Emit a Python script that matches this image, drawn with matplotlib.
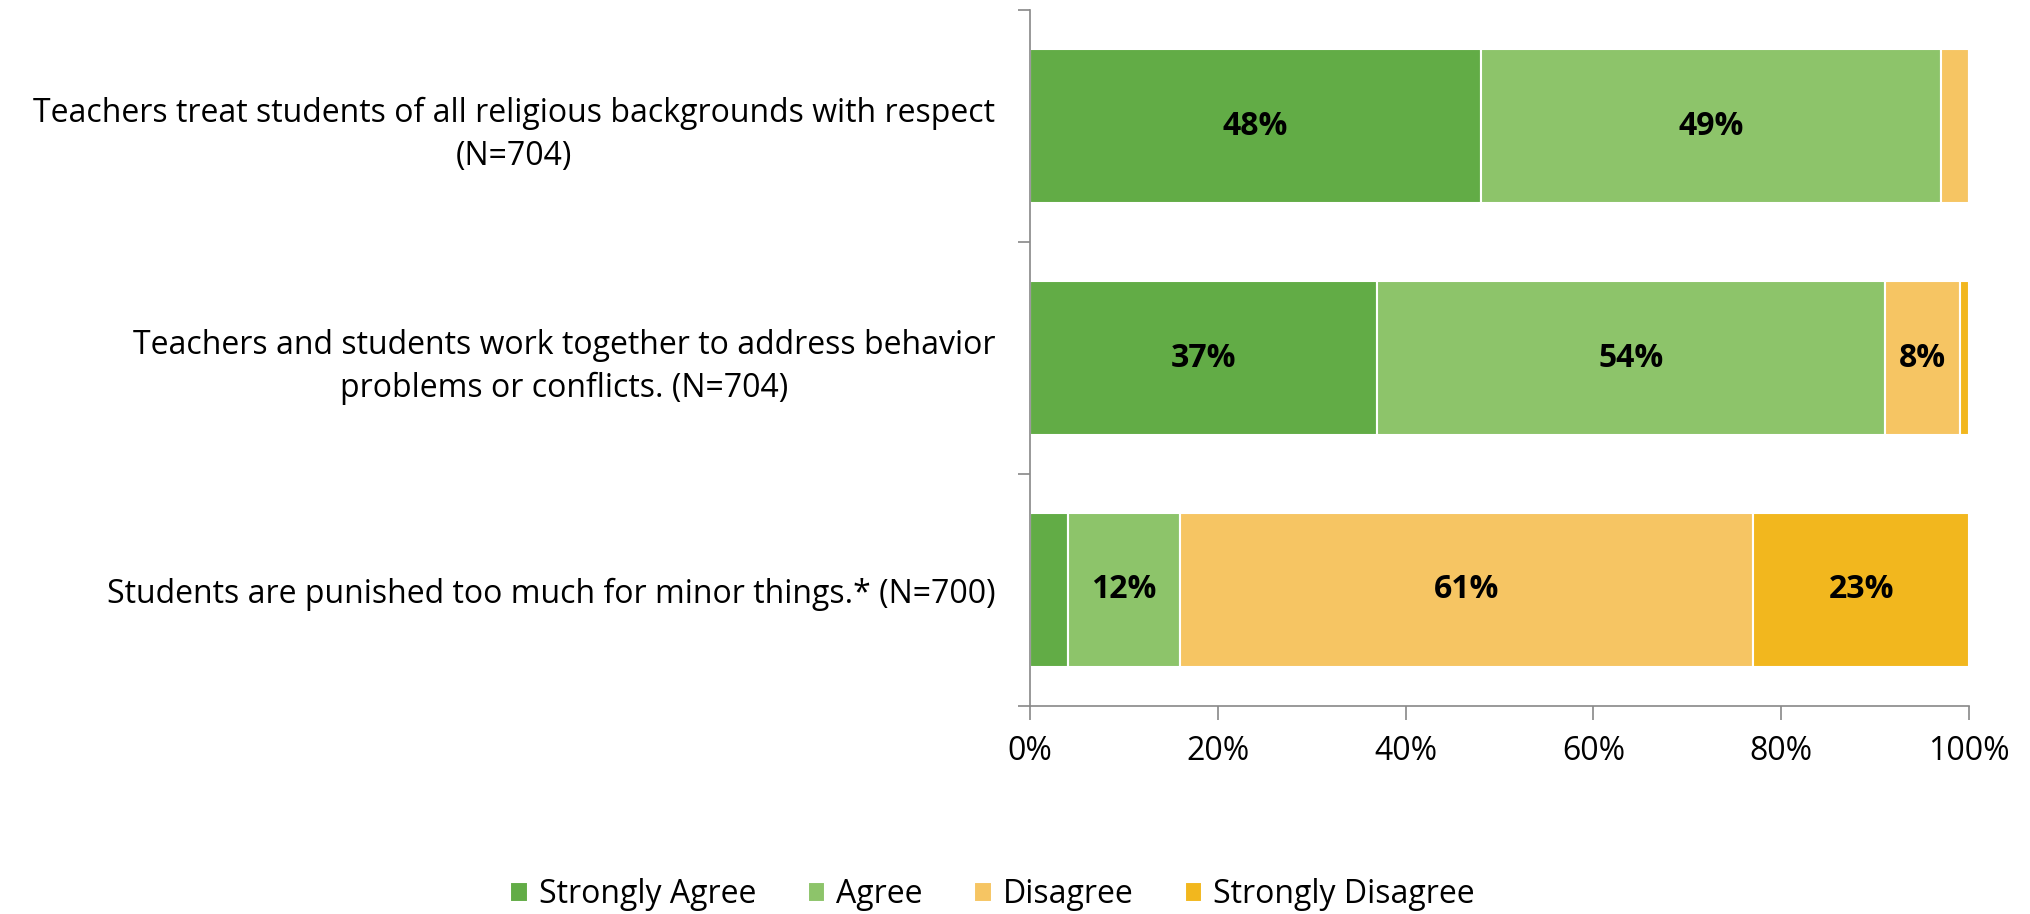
import matplotlib
matplotlib.use("Agg")
import matplotlib.pyplot as plt
import numpy as np

categories = [
    "Teachers treat students of all religious backgrounds with respect\n(N=704)",
    "Teachers and students work together to address behavior\nproblems or conflicts. (N=704)",
    "Students are punished too much for minor things.* (N=700)",
]
series_names = ["Strongly Agree", "Agree", "Disagree", "Strongly Disagree"]
strongly_agree = [48, 37, 4]
agree = [49, 54, 12]
disagree = [3, 8, 61]
strongly_disagree = [0, 1, 23]
colors = ["#62AC46", "#8DC46A", "#F6C563", "#F2B71E"]
xticks = [0, 20, 40, 60, 80, 100]
xticklabels = ["0%", "20%", "40%", "60%", "80%", "100%"]

plt.rcParams['font.family'] = ['Open Sans', 'DejaVu Sans']

fig = plt.figure(figsize=(20.30, 9.14), dpi=100)
ax = fig.add_axes([0.5074, 0.2276, 0.4626, 0.7614])

data = [strongly_agree, agree, disagree, strongly_disagree]
y = np.arange(len(categories))
left = np.zeros(len(categories))
handles = []
for vals, name, c in zip(data, series_names, colors):
    vals = np.array(vals, dtype=float)
    b = ax.barh(y, vals, left=left, height=0.66, color=c, edgecolor="white",
                linewidth=1.5, label=name)
    handles.append(b)
    for yi, (l, v) in enumerate(zip(left, vals)):
        if v >= 5:
            ax.text(l + v / 2, yi, f"{int(v)}%", ha="center", va="center",
                    fontsize=23, fontweight="bold", color="black")
    left += vals

ax.set_xlim(0, 100)
ax.set_ylim(len(categories) - 0.5, -0.5)
ax.set_xticks(xticks)
ax.set_xticklabels(xticklabels, fontsize=23)
ax.set_yticks(y)
ax.set_yticklabels(categories, fontsize=23, ha="right", multialignment="center",
                   linespacing=1.38)
ax.set_yticks(np.arange(-0.5, len(categories), 1.0), minor=True)
ax.tick_params(axis="y", which="major", length=0, pad=25)
ax.tick_params(axis="y", which="minor", length=9, color="#888888", width=1.2)
ax.tick_params(axis="x", which="major", length=10, color="#888888", width=1.2, pad=11)
for s in ["top", "right"]:
    ax.spines[s].set_visible(False)
for s in ["left", "bottom"]:
    ax.spines[s].set_color("#888888")
    ax.spines[s].set_linewidth(1.2)

fig.legend(handles=handles, labels=series_names, loc="center",
           bbox_to_anchor=(0.489, 0.021), ncol=4, frameon=False, fontsize=23,
           handlelength=0.55, handleheight=0.55, handletextpad=0.35, columnspacing=1.6)

fig.savefig("out.png", dpi=100)
